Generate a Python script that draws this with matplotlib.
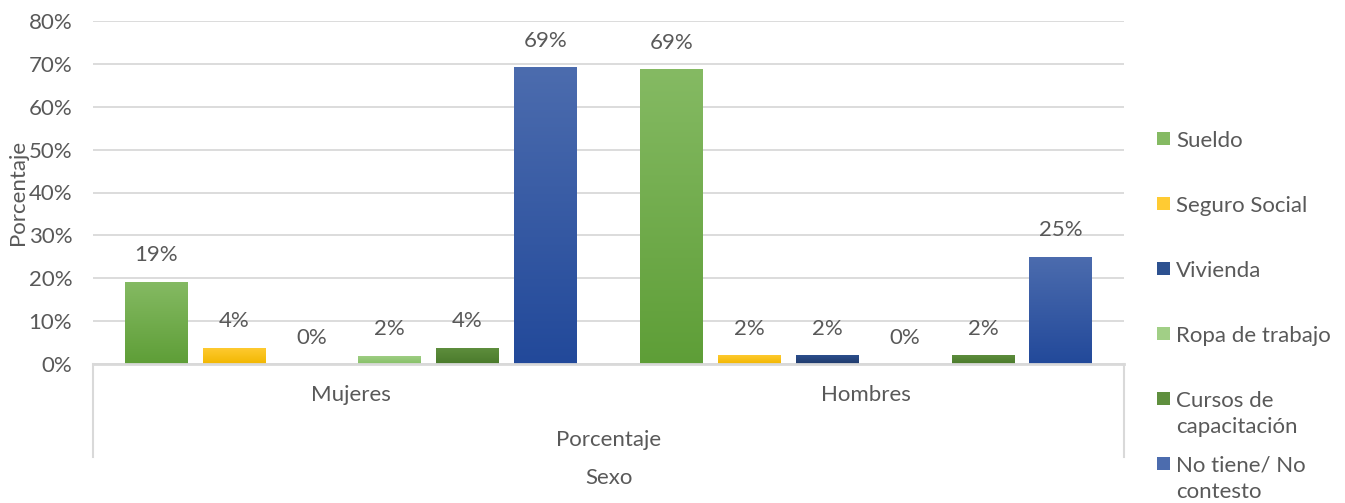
import numpy as np
import matplotlib
matplotlib.use("Agg")
import matplotlib.pyplot as plt
import matplotlib.transforms as mtransforms
from matplotlib.colors import LinearSegmentedColormap
from matplotlib.lines import Line2D
from matplotlib.patches import Rectangle

# Data
groups = ["Mujeres", "Hombres"]
series = ["Sueldo", "Seguro Social", "Vivienda", "Ropa de trabajo",
          "Cursos de\ncapacitación", "No tiene/ No\ncontesto"]
mujeres = [0.192, 0.038, 0.0, 0.019, 0.038, 0.692]
hombres = [0.688, 0.021, 0.021, 0.0, 0.021, 0.250]
yticks = [0, 0.1, 0.2, 0.3, 0.4, 0.5, 0.6, 0.7, 0.8]

# top / bottom colours of each bar gradient
top_colors = ["#85BA63", "#FFCB33", "#2D5190", "#A1CF86", "#5F8F3E", "#4C6CAE"]
bottom_colors = ["#5E9E37", "#F2B700", "#203A6B", "#86C067", "#4A7A2B", "#22499A"]

text_grey = "#595959"
grid_grey = "#D9D9D9"
fs = 16

plt.rcParams['font.family'] = ['Lato', 'DejaVu Sans']

W, H = 1345, 503
fig = plt.figure(figsize=(W / 100, H / 100), dpi=100)
ax = fig.add_axes([93 / W, 1 - 364 / H, (1124 - 93) / W, (364 - 21) / H])

n = len(series)
step = 0.151
width = 0.122
x = np.arange(len(groups))
values = np.array([mujeres, hombres])

for i, name in enumerate(series):
    pos = x + (i - (n - 1) / 2) * step
    vals = values[:, i]
    bars = ax.bar(pos, vals, width=width, color=bottom_colors[i], zorder=2)
    cmap = LinearSegmentedColormap.from_list("g%d" % i, [bottom_colors[i], top_colors[i]])
    grad = np.linspace(0, 1, 256).reshape(-1, 1)
    for b, v in zip(bars, vals):
        if v > 0:
            im = ax.imshow(grad, cmap=cmap, origin="lower", aspect="auto",
                           extent=[b.get_x(), b.get_x() + b.get_width(), 0, v],
                           zorder=3)
            im.set_clip_path(b)
        ax.annotate("%d%%" % round(v * 100), (b.get_x() + b.get_width() / 2, v),
                    xytext=(0, 19), textcoords="offset points", ha="center",
                    va="center", fontsize=fs, color=text_grey)

ax.set_xlim(-0.5, 1.5)
ax.set_ylim(0, 0.8)
ax.set_yticks(yticks)
ax.set_yticklabels(["%d%%" % round(t * 100) for t in yticks])
ax.tick_params(axis="y", length=0, labelsize=fs, labelcolor=text_grey, pad=15)
ax.set_xticks([])
ax.grid(axis="y", color=grid_grey, linewidth=1.3, zorder=0)
ax.set_axisbelow(True)
for s in ["top", "right", "left"]:
    ax.spines[s].set_visible(False)
ax.spines["bottom"].set_color(grid_grey)
ax.spines["bottom"].set_linewidth(2)
ax.spines["bottom"].set_zorder(4)

# multi-level category axis
blend = mtransforms.blended_transform_factory(ax.transData, fig.transFigure)
for gx, g in zip(x, groups):
    ax.text(gx, 1 - 395 / H, g, transform=blend,
            ha="center", va="center", fontsize=fs, color=text_grey)
fig.text(609 / W, 1 - 440 / H, "Porcentaje", ha="center", va="center",
         fontsize=fs, color=text_grey)
fig.text(609 / W, 1 - 478 / H, "Sexo", ha="center", va="center",
         fontsize=fs, color=text_grey)
for lx in [93, 1124]:
    fig.add_artist(Line2D([lx / W, lx / W], [1 - 364 / H, 1 - 457 / H],
                          color=grid_grey, linewidth=1.5, transform=fig.transFigure))

fig.text(18 / W, 1 - 192 / H, "Porcentaje", rotation=90, ha="center", va="center",
         fontsize=fs, color=text_grey)

# legend drawn by hand to keep the even spacing of the reference
for i, name in enumerate(series):
    yc = 138 + i * 65
    fig.add_artist(Rectangle((1157 / W, 1 - (yc + 7) / H), 13 / W, 13 / H,
                             facecolor=top_colors[i], edgecolor="none",
                             transform=fig.transFigure))
    fig.text(1176 / W, 1 - (yc - 7) / H, name, ha="left", va="top",
             fontsize=fs, color=text_grey, linespacing=1.4)

fig.savefig("out.png", dpi=100)
